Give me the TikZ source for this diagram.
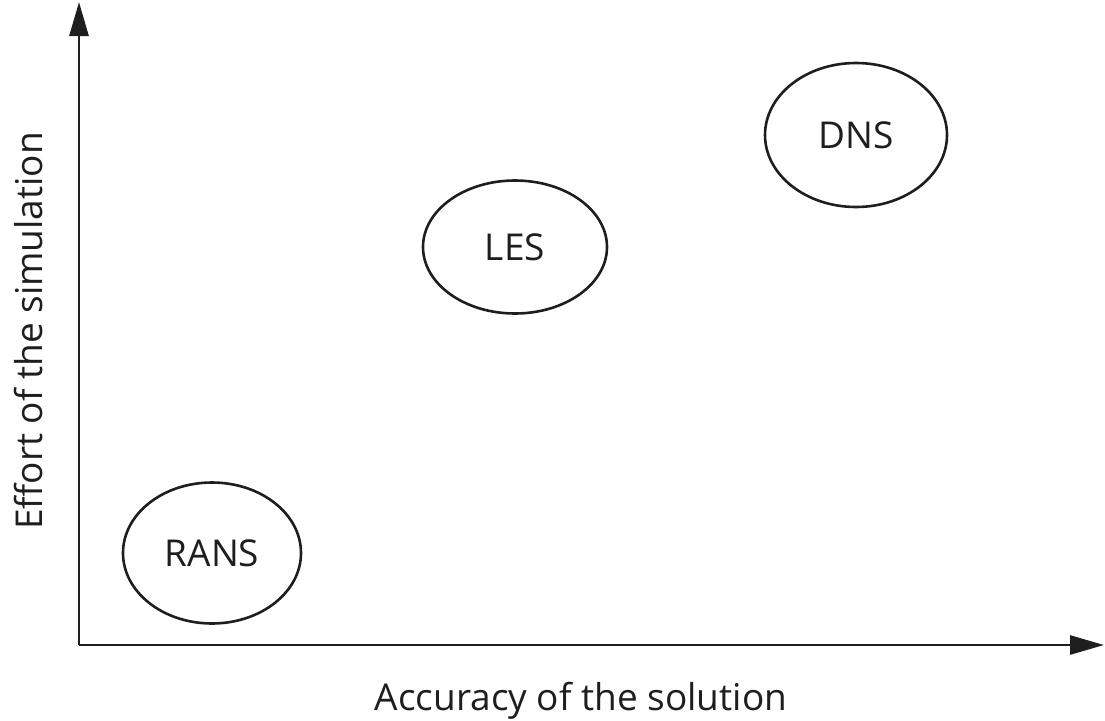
\documentclass[tikz,border=0pt]{standalone}
\usepackage{fontspec}
\setmainfont{Open Sans}
\usetikzlibrary{shapes.geometric,arrows.meta}
\definecolor{ink}{HTML}{1E1E1E}
\tikzset{
  axis/.style={draw=ink, line width=2.8pt, -{Triangle[length=34pt,width=19pt]}},
  method/.style={ellipse, draw=ink, line width=2.6pt, inner sep=0pt, text=ink, font=\fontsize{37}{42}\selectfont},
  axislabel/.style={text=ink, font=\fontsize{37}{42}\selectfont, inner sep=0pt}
}
\begin{document}
\begin{tikzpicture}[x=1pt,y=-1pt]
\useasboundingbox (0,0) rectangle (1105,720);
\coordinate (origin) at (79,645);
\coordinate (ytip) at (79,2);
\coordinate (xtip) at (1104,645);
\draw[axis] (origin) -- (ytip);
\draw[axis] (origin) -- (xtip);
\node[method, minimum width=178pt, minimum height=141pt] (rans) at (212,553) {RANS};
\node[method, minimum width=184pt, minimum height=133pt] (les) at (515,247) {LES};
\node[method, minimum width=182pt, minimum height=144pt] (dns) at (856,135) {DNS};
\node[axislabel, anchor=base] (xlab) at (581,710) {Accuracy of the solution};
\node[axislabel, anchor=base, rotate=90] (ylab) at (42,331) {Effort of the simulation};
\end{tikzpicture}
\end{document}
